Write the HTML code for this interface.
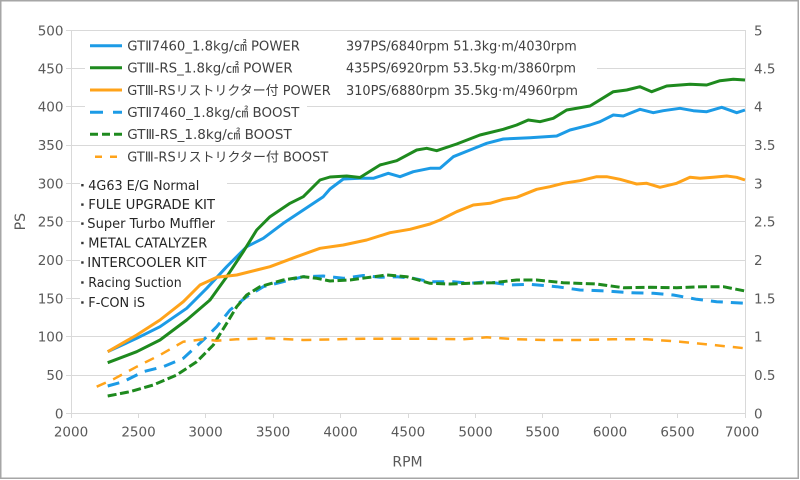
<!DOCTYPE html>
<html><head><meta charset="utf-8"><style>
html,body{margin:0;padding:0;background:#fff;}
svg{display:block;}
text{font-family:"DejaVu Sans","Noto Sans CJK JP",sans-serif;}
.ax{font-size:13.5px;fill:#595959;}
.lg{font-size:13px;fill:#404040;}
.ls{font-size:13px;fill:#262626;}
</style></head><body>
<svg width="800" height="480" viewBox="0 0 800 480" xmlns="http://www.w3.org/2000/svg">
<rect x="0" y="0" width="800" height="480" fill="#fff"/>
<rect x="0.75" y="0.75" width="797.5" height="477.5" fill="none" stroke="#a6a6a6" stroke-width="1.5"/>
<!-- gridlines -->
<g stroke="#d9d9d9" stroke-width="1">
<line x1="71" y1="30.5" x2="745" y2="30.5"/>
<line x1="71" y1="68.5" x2="745" y2="68.5"/>
<line x1="71" y1="106.5" x2="745" y2="106.5"/>
<line x1="71" y1="145.5" x2="745" y2="145.5"/>
<line x1="71" y1="183.5" x2="745" y2="183.5"/>
<line x1="71" y1="221.5" x2="745" y2="221.5"/>
<line x1="71" y1="260.5" x2="745" y2="260.5"/>
<line x1="71" y1="298.5" x2="745" y2="298.5"/>
<line x1="71" y1="336.5" x2="745" y2="336.5"/>
<line x1="71" y1="375.5" x2="745" y2="375.5"/>
<line x1="71" y1="413.5" x2="745" y2="413.5"/>
<line x1="71.5" y1="30" x2="71.5" y2="414"/>
<line x1="745.5" y1="30" x2="745.5" y2="414"/>
<!-- left ticks -->
<line x1="66" y1="30.5" x2="71" y2="30.5"/>
<line x1="66" y1="68.5" x2="71" y2="68.5"/>
<line x1="66" y1="106.5" x2="71" y2="106.5"/>
<line x1="66" y1="145.5" x2="71" y2="145.5"/>
<line x1="66" y1="183.5" x2="71" y2="183.5"/>
<line x1="66" y1="221.5" x2="71" y2="221.5"/>
<line x1="66" y1="260.5" x2="71" y2="260.5"/>
<line x1="66" y1="298.5" x2="71" y2="298.5"/>
<line x1="66" y1="336.5" x2="71" y2="336.5"/>
<line x1="66" y1="375.5" x2="71" y2="375.5"/>
<line x1="66" y1="413.5" x2="71" y2="413.5"/>
<!-- bottom ticks -->
<line x1="71.5" y1="413" x2="71.5" y2="418"/>
<line x1="138.5" y1="413" x2="138.5" y2="418"/>
<line x1="205.5" y1="413" x2="205.5" y2="418"/>
<line x1="273.5" y1="413" x2="273.5" y2="418"/>
<line x1="340.5" y1="413" x2="340.5" y2="418"/>
<line x1="408.5" y1="413" x2="408.5" y2="418"/>
<line x1="475.5" y1="413" x2="475.5" y2="418"/>
<line x1="542.5" y1="413" x2="542.5" y2="418"/>
<line x1="610.5" y1="413" x2="610.5" y2="418"/>
<line x1="677.5" y1="413" x2="677.5" y2="418"/>
<line x1="745.5" y1="413" x2="745.5" y2="418"/>
</g>
<!-- white boxes behind legend and notes -->
<g fill="#fff">
<rect x="85" y="37" width="512" height="17.5"/>
<rect x="85" y="59" width="512" height="17.5"/>
<rect x="85" y="81" width="512" height="18"/>
<rect x="85" y="103.5" width="222" height="17.5"/>
<rect x="85" y="125.5" width="214" height="17.5"/>
<rect x="85" y="148" width="250" height="17.5"/>
<rect x="80" y="175" width="147" height="77"/>
<rect x="80" y="252" width="128" height="60"/>
</g>
<!-- axis labels left -->
<g class="ax" text-anchor="end">
<text x="63.5" y="35.3">500</text>
<text x="63.5" y="73.3">450</text>
<text x="63.5" y="111.5">400</text>
<text x="63.5" y="150">350</text>
<text x="63.5" y="188.3">300</text>
<text x="63.5" y="226.5">250</text>
<text x="63.5" y="265">200</text>
<text x="63.5" y="303.3">150</text>
<text x="63.5" y="341.5">100</text>
<text x="63.5" y="380">50</text>
<text x="63.5" y="418.3">0</text>
</g>
<g class="ax" text-anchor="start">
<text x="754" y="35.3">5</text>
<text x="754" y="73.3">4.5</text>
<text x="754" y="111.5">4</text>
<text x="754" y="150">3.5</text>
<text x="754" y="188.3">3</text>
<text x="754" y="226.5">2.5</text>
<text x="754" y="265">2</text>
<text x="754" y="303.3">1.5</text>
<text x="754" y="341.5">1</text>
<text x="754" y="380">0.5</text>
<text x="754" y="418.3">0</text>
</g>
<g class="ax" text-anchor="middle">
<text x="71" y="436.7">2000</text>
<text x="138.5" y="436.7">2500</text>
<text x="205.5" y="436.7">3000</text>
<text x="273" y="436.7">3500</text>
<text x="340.5" y="436.7">4000</text>
<text x="408" y="436.7">4500</text>
<text x="475.5" y="436.7">5000</text>
<text x="542.5" y="436.7">5500</text>
<text x="610" y="436.7">6000</text>
<text x="677.5" y="436.7">6500</text>
<text x="742" y="436.7">7000</text>
</g>
<text x="407.5" y="466.7" text-anchor="middle" style="font-size:14px;fill:#595959">RPM</text>
<text transform="translate(25,221.7) rotate(-90)" text-anchor="middle" style="font-size:14px;fill:#595959">PS</text>

<!-- series -->
<g fill="none" stroke-linejoin="round" stroke-linecap="butt">
<polyline stroke="#1c9be6" stroke-width="3" points="107.7,351.7 136.7,338.3 160,326.7 186.7,308.3 206.7,288.3 226.7,266.7 246.7,246.7 263.3,238.3 283.3,223.3 303.3,210 323.3,196.7 330,189 343.3,179 360,178.3 373.3,178.3 388.3,173.3 400,176.7 413.3,171.7 430,168.3 440,168.3 453.3,156.7 470,150 486.7,143.3 503.3,139 530,137.7 556.7,136 570,130 590,125 600,121.7 613.3,115 623.3,116 640,109.3 653.3,112.7 663.3,110.7 680,108.3 693.3,110.7 706.7,111.7 721.7,107.3 736.7,112.7 745,110"/>
<polyline stroke="#1e8a1e" stroke-width="3" points="107.7,362.7 136.7,351.7 160,340 186.7,320 210,300 226.7,276.7 243.3,251.7 256.7,230 270,216.7 290,203.3 303.3,196.7 320,180 330,177 346.7,176 360,177.5 380,165 396.7,160.7 416.7,150 426.7,148.3 436.7,150.7 456.7,144 480,135 503.3,129.3 516.7,125 528.3,120 540,121.7 553.3,118.3 566.7,110 590,106 613.3,91.7 626.7,90 640,86.7 651.7,91.7 666.7,86 690,84.3 706.7,85 720,80.7 733.3,79.3 745,80"/>
<polyline stroke="#ffa31a" stroke-width="3" points="107.7,351.7 136.7,335 160,320 183.3,301.7 200,285 216.7,277.3 236.7,275 256.7,270 270,266.7 296.7,256.7 320,248.3 343.3,245 366.7,240 390,232.7 410,229.3 430,224 440,220 456.7,211.7 473.3,205 490,203.3 503.3,199.3 516.7,197.3 536.7,189.3 550,186.7 563.3,183.3 580,180.7 596.7,176.7 606.7,176.7 620,179.3 636.7,184 646.7,183.3 660,187.3 676.7,183.3 690,177.3 700,178.3 713.3,177.3 726.7,176 736.7,177.3 745,180"/>
<polyline stroke="#1c9be6" stroke-width="3" stroke-dasharray="12 8" points="107.7,386 123.3,381.7 143.3,371.7 163.3,366.7 183.3,358.3 203.3,340 216.7,326.7 230,310 246.7,296.7 263.3,286.7 283.3,281.7 303.3,276.7 323.3,276 343.3,278.3 363.3,275.5 380,277.3 396.7,276.7 413.3,278.3 430,281.7 453.3,281.7 470,283.3 486.7,281.7 510,285 530,284.3 556.7,286.7 580,290 606.7,291 630,292.7 653.3,293.3 673.3,295 696.7,299.3 716.7,301.7 745,303.3"/>
<polyline stroke="#1e8a1e" stroke-width="3" stroke-dasharray="9 3.5" points="107.7,396 130,391.7 153.3,385 176.7,375 196.7,361.7 213.3,345 226.7,323.3 236.7,306.7 246.7,295 260,286.7 283.3,280 303.3,276.7 316.7,278.3 330,281 350,280 366.7,277.7 386.7,275 406.7,276.7 430,283.3 450,284 470,283.3 493.3,282.7 516.7,280 536.7,280 563.3,282.7 596.7,284 623.3,287.7 650,287.3 676.7,287.7 703.3,286.7 723.3,286.7 745,291"/>
<polyline stroke="#ffa31a" stroke-width="2.5" stroke-dasharray="10 8" points="96.7,386.7 113.3,379.3 136.7,366.7 160,355 183.3,341.7 203.3,339.3 216.7,340.7 236.7,339.3 270,338.3 303.3,340 336.7,339.3 363.3,338.7 396.7,338.7 430,338.7 463.3,339.3 486.7,337.3 516.7,339.3 546.7,340 580,340 613.3,339.3 646.7,339.3 680,341.7 713.3,345 745,348.3"/>
</g>

<!-- legend samples -->
<g fill="none">
<line x1="90" y1="45.7" x2="122" y2="45.7" stroke="#1c9be6" stroke-width="3"/>
<line x1="90" y1="67.7" x2="122" y2="67.7" stroke="#1e8a1e" stroke-width="3"/>
<line x1="90" y1="90" x2="122" y2="90" stroke="#ffa31a" stroke-width="3"/>
<line x1="90" y1="112.3" x2="122" y2="112.3" stroke="#1c9be6" stroke-width="3" stroke-dasharray="13 10"/>
<line x1="90" y1="134.3" x2="122" y2="134.3" stroke="#1e8a1e" stroke-width="3" stroke-dasharray="8 4"/>
<line x1="95" y1="156.7" x2="122" y2="156.7" stroke="#ffa31a" stroke-width="2.5" stroke-dasharray="7 8"/>
</g>
<g class="lg">
<text x="127.3" y="50.5" textLength="172.7" lengthAdjust="spacingAndGlyphs">GTⅡ7460_1.8kg/㎠ POWER</text>
<text x="127.3" y="72.5" textLength="165.4" lengthAdjust="spacingAndGlyphs">GTⅢ-RS_1.8kg/㎠ POWER</text>
<text x="127.3" y="94.8" textLength="203.4" lengthAdjust="spacingAndGlyphs">GTⅢ-RSリストリクター付 POWER</text>
<text x="127.3" y="117.1" textLength="172" lengthAdjust="spacingAndGlyphs">GTⅡ7460_1.8kg/㎠ BOOST</text>
<text x="127.3" y="139.1" textLength="164.4" lengthAdjust="spacingAndGlyphs">GTⅢ-RS_1.8kg/㎠ BOOST</text>
<text x="127.3" y="161.5" textLength="201" lengthAdjust="spacingAndGlyphs">GTⅢ-RSリストリクター付 BOOST</text>
<text x="346" y="50.5" textLength="230.7" lengthAdjust="spacingAndGlyphs">397PS/6840rpm 51.3kg·m/4030rpm</text>
<text x="346" y="72.5" textLength="230" lengthAdjust="spacingAndGlyphs">435PS/6920rpm 53.5kg·m/3860rpm</text>
<text x="346" y="94.8" textLength="232" lengthAdjust="spacingAndGlyphs">310PS/6880rpm 35.5kg·m/4960rpm</text>
</g>
<!-- notes -->
<g fill="#333">
<rect x="81.2" y="184" width="2.4" height="2.4"/>
<rect x="81.2" y="203.4" width="2.4" height="2.4"/>
<rect x="81.2" y="222.4" width="2.4" height="2.4"/>
<rect x="81.2" y="241.8" width="2.4" height="2.4"/>
<rect x="81.2" y="261.3" width="2.4" height="2.4"/>
<rect x="81.2" y="281.3" width="2.4" height="2.4"/>
<rect x="81.2" y="301.3" width="2.4" height="2.4"/>
</g>
<g class="ls">
<text x="88.3" y="189.8" textLength="111" lengthAdjust="spacingAndGlyphs">4G63 E/G Normal</text>
<text x="88.3" y="209.2" textLength="126.7" lengthAdjust="spacingAndGlyphs">FULE UPGRADE KIT</text>
<text x="87.3" y="228.1" textLength="127.7" lengthAdjust="spacingAndGlyphs">Super Turbo Muffler</text>
<text x="88.3" y="247.5" textLength="119" lengthAdjust="spacingAndGlyphs">METAL CATALYZER</text>
<text x="87.3" y="267.1" textLength="119.4" lengthAdjust="spacingAndGlyphs">INTERCOOLER KIT</text>
<text x="88.3" y="287.1" textLength="93.4" lengthAdjust="spacingAndGlyphs">Racing Suction</text>
<text x="88.3" y="307.1" textLength="56.7" lengthAdjust="spacingAndGlyphs">F-CON iS</text>
</g>
</svg>
</body></html>
